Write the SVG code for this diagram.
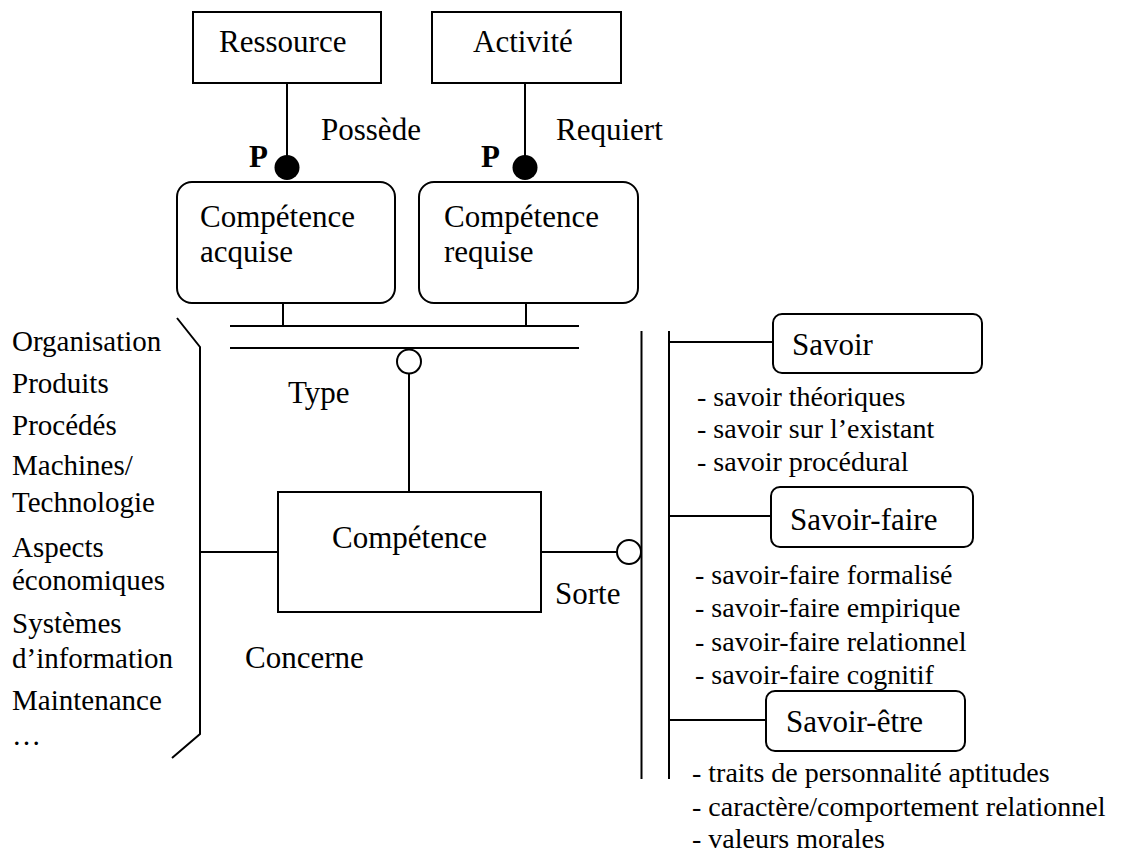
<svg xmlns="http://www.w3.org/2000/svg" width="1137" height="852" viewBox="0 0 1137 852">
  <style>
    text { fill: #000; }
    .box { fill: #fff; stroke: #000; stroke-width: 2; }
    .ln { fill: none; stroke: #000; stroke-width: 2; }
    .lbl { font-size: 31px; }
    .lst { font-size: 29px; }
    .sub { font-size: 28px; }
    .p { font-size: 31px; font-weight: bold; }
  </style>
  <rect width="1137" height="852" fill="#fff"/>

  <g font-family="'Liberation Serif', 'Times New Roman', Times, 'DejaVu Serif', serif">
  <!-- connectors -->
  <g id="connectors">
    <line class="ln" x1="287" y1="83" x2="287" y2="160"/>
    <circle cx="287" cy="167.5" r="12.5" fill="#000"/>
    <line class="ln" x1="525" y1="83" x2="525" y2="160"/>
    <circle cx="525" cy="167.5" r="12.5" fill="#000"/>
    <!-- double bar below the two competence boxes -->
    <line class="ln" x1="230" y1="326" x2="579" y2="326"/>
    <line class="ln" x1="230" y1="348" x2="579" y2="348"/>
    <line class="ln" x1="283" y1="303" x2="283" y2="326"/>
    <line class="ln" x1="526" y1="303" x2="526" y2="326"/>
    <!-- Type link -->
    <circle class="ln" cx="409" cy="361.5" r="12"/>
    <line class="ln" x1="409" y1="373.5" x2="409" y2="492"/>
    <!-- Concerne bracket -->
    <polyline class="ln" points="177,318 200,347 200,734 172,758"/>
    <line class="ln" x1="200" y1="552" x2="278" y2="552"/>
    <!-- Sorte link -->
    <line class="ln" x1="541" y1="552" x2="617" y2="552"/>
    <circle class="ln" cx="629" cy="552" r="12"/>
    <line class="ln" x1="641.5" y1="331" x2="641.5" y2="779"/>
    <line class="ln" x1="669" y1="331" x2="669" y2="779"/>
    <line class="ln" x1="669" y1="342" x2="773" y2="342"/>
    <line class="ln" x1="669" y1="516" x2="771" y2="516"/>
    <line class="ln" x1="669" y1="720" x2="766" y2="720"/>
  </g>

  <!-- relationship labels -->
  <g id="labels">
    <text class="lbl" x="321" y="140">Possède</text>
    <text class="p" x="249" y="167">P</text>
    <text class="lbl" x="556" y="140">Requiert</text>
    <text class="p" x="481" y="167">P</text>
    <text class="lbl" x="288" y="403">Type</text>
    <text class="lbl" x="555" y="604">Sorte</text>
    <text class="lbl" x="245" y="668">Concerne</text>
  </g>

  <g id="ressource">
    <rect class="box" x="193" y="12" width="188" height="71"/>
    <text class="lbl" x="219" y="52">Ressource</text>
  </g>
  <g id="activite">
    <rect class="box" x="432" y="12" width="189" height="71"/>
    <text class="lbl" x="473" y="52">Activité</text>
  </g>

  <g id="competence-acquise">
    <rect class="box" x="177" y="182" width="218" height="121" rx="15"/>
    <text class="lbl" x="200" y="227">Compétence</text>
    <text class="lbl" x="200" y="262">acquise</text>
  </g>
  <g id="competence-requise">
    <rect class="box" x="419" y="182" width="219" height="121" rx="15"/>
    <text class="lbl" x="444" y="227">Compétence</text>
    <text class="lbl" x="444" y="262">requise</text>
  </g>

  <g id="competence">
    <rect class="box" x="278" y="492" width="263" height="120"/>
    <text class="lbl" x="409.5" y="548" text-anchor="middle">Compétence</text>
  </g>

  <g id="domaines">
    <text class="lst" x="12" y="351">Organisation</text>
    <text class="lst" x="12" y="393">Produits</text>
    <text class="lst" x="12" y="435">Procédés</text>
    <text class="lst" x="12" y="475">Machines/</text>
    <text class="lst" x="12" y="512">Technologie</text>
    <text class="lst" x="12" y="557">Aspects</text>
    <text class="lst" x="12" y="590">économiques</text>
    <text class="lst" x="12" y="633">Systèmes</text>
    <text class="lst" x="12" y="668">d’information</text>
    <text class="lst" x="12" y="710">Maintenance</text>
    <text class="lst" x="12" y="745">…</text>
  </g>

  <g id="savoir">
    <rect class="box" x="773" y="314" width="209" height="59" rx="9"/>
    <text class="lbl" x="792" y="355">Savoir</text>
    <text class="sub" x="697" y="406">- savoir théoriques</text>
    <text class="sub" x="697" y="438">- savoir sur l’existant</text>
    <text class="sub" x="697" y="471">- savoir procédural</text>
  </g>

  <g id="savoir-faire">
    <rect class="box" x="771" y="487" width="202" height="60" rx="9"/>
    <text class="lbl" x="790" y="530">Savoir-faire</text>
    <text class="sub" x="695" y="584">- savoir-faire formalisé</text>
    <text class="sub" x="695" y="617">- savoir-faire empirique</text>
    <text class="sub" x="695" y="651">- savoir-faire relationnel</text>
    <text class="sub" x="695" y="684">- savoir-faire cognitif</text>
  </g>

  <g id="savoir-etre">
    <rect class="box" x="766" y="691" width="199" height="60" rx="9"/>
    <text class="lbl" x="786" y="732">Savoir-être</text>
    <text class="sub" x="692" y="782">- traits de personnalité aptitudes</text>
    <text class="sub" x="692" y="816">- caractère/comportement relationnel</text>
    <text class="sub" x="692" y="848">- valeurs morales</text>
  </g>
  </g>
</svg>
